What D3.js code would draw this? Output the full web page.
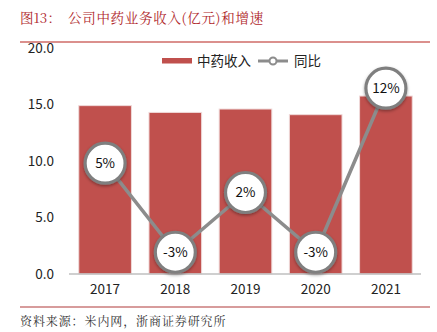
<!DOCTYPE html>
<html><head><meta charset="utf-8">
<script src="https://cdn.jsdelivr.net/npm/d3@7"></script>
<style>body{margin:0;background:#fff}svg{display:block}</style>
</head><body>
<svg id="c" width="437" height="332"></svg>
<script>
const years = ["2017","2018","2019","2020","2021"];
const revenue = [14.9, 14.3, 14.6, 14.1, 15.75];
const growth = [4.8, -3.4, 2.1, -3.4, 11.7];
const growthLabels = ["5%","-3%","2%","-3%","12%"];
const yTicks = [0, 5, 10, 15, 20];
const titleNum = "图13：";
const title = "公司中药业务收入(亿元)和增速";
const source = "资料来源：米内网，浙商证券研究所";
const legendNames = ["中药收入","同比"];

const svg = d3.select("#c");
const red = "#c0504d", gray = "#8c8c8c";
const sans = "'Noto Sans CJK SC','Noto Sans',sans-serif";

const defs = svg.append("defs");
const f = defs.append("filter").attr("id","sh").attr("x","-50%").attr("y","-50%").attr("width","200%").attr("height","200%");
f.append("feDropShadow").attr("dx",0).attr("dy",1.5).attr("stdDeviation",1.8).attr("flood-color","#000").attr("flood-opacity",0.35);

// title
const tf = "'Noto Serif CJK SC','Noto Sans CJK SC',serif";
svg.append("text").attr("x",20).attr("y",23).attr("fill","#b0282c")
  .attr("font-family",tf).attr("font-size",13.5).text(titleNum);
svg.append("text").attr("x",68).attr("y",23).attr("fill","#b0282c")
  .attr("font-family",tf).attr("font-size",13.5).attr("letter-spacing",0.7).text(title);
svg.append("line").attr("x1",20).attr("x2",430).attr("y1",42).attr("y2",42).attr("stroke","#cf6b67").attr("stroke-width",1.6);

const x = d3.scaleBand().domain(years).range([70,421]).paddingInner(0.25).paddingOuter(0.125);
const y = d3.scaleLinear().domain([0,20]).range([274,48]);
const y2 = d3.scaleLinear().domain([-5.4,15.4]).range([274,48]);

// y axis labels
const ya = svg.append("g").attr("transform","translate(61,0)").call(d3.axisLeft(y).tickValues(yTicks).tickFormat(d3.format(".1f")).tickSize(0));
ya.select(".domain").remove();
ya.selectAll("text").attr("font-family",sans).attr("font-size",13.5).attr("fill","#222").attr("dx",-4);

// bars
svg.append("g").selectAll("rect").data(years).join("rect")
  .attr("x",d=>x(d)).attr("width",x.bandwidth())
  .attr("y",(d,i)=>y(revenue[i])).attr("height",(d,i)=>y(0)-y(revenue[i]))
  .attr("fill",red).attr("stroke","#f0dada").attr("stroke-width",1);

// x axis
const xa = svg.append("g").attr("transform","translate(0,274)").call(d3.axisBottom(x).tickSize(0));
xa.select(".domain").attr("stroke","#bfbfbf").attr("stroke-width",1.5).attr("d","M69,0H421");
xa.selectAll("text").attr("font-family",sans).attr("font-size",13.5).attr("fill","#222").attr("dy","1.25em");

// line
const cx = d => x(d)+x.bandwidth()/2;
svg.append("path").datum(years)
  .attr("d",d3.line().x(d=>cx(d)).y((d,i)=>y2(growth[i])))
  .attr("fill","none").attr("stroke",gray).attr("stroke-width",3.5);
const g = svg.append("g").selectAll("g").data(years).join("g")
  .attr("transform",(d,i)=>`translate(${cx(d)},${y2(growth[i])})`);
g.append("circle").attr("r",20).attr("fill","#fff").attr("stroke","#7f7f7f").attr("stroke-width",3.2).attr("filter","url(#sh)");
g.append("text").attr("text-anchor","middle").attr("dy","0.36em").attr("font-family",sans).attr("font-size",13.5).attr("fill","#111")
  .text((d,i)=>growthLabels[i]);

// legend
const lg = svg.append("g");
lg.append("rect").attr("x",162).attr("y",58).attr("width",30).attr("height",5.5).attr("fill",red);
lg.append("text").attr("x",197).attr("y",65.5).attr("font-family",sans).attr("font-size",13.5).attr("fill","#222").text(legendNames[0]);
lg.append("line").attr("x1",258).attr("x2",288).attr("y1",61).attr("y2",61).attr("stroke",gray).attr("stroke-width",3);
lg.append("circle").attr("cx",273).attr("cy",61).attr("r",3.5).attr("fill","#fff").attr("stroke",gray).attr("stroke-width",2);
lg.append("text").attr("x",294).attr("y",65.5).attr("font-family",sans).attr("font-size",13.5).attr("fill","#222").text(legendNames[1]);

// footer
svg.append("line").attr("x1",20).attr("x2",430).attr("y1",307).attr("y2",307).attr("stroke","#b03a3a").attr("stroke-width",1.2);
svg.append("text").attr("x",20).attr("y",326).attr("font-family",tf).attr("font-size",12).attr("letter-spacing",0.9).attr("fill","#333").text(source);
</script>
</body></html>
